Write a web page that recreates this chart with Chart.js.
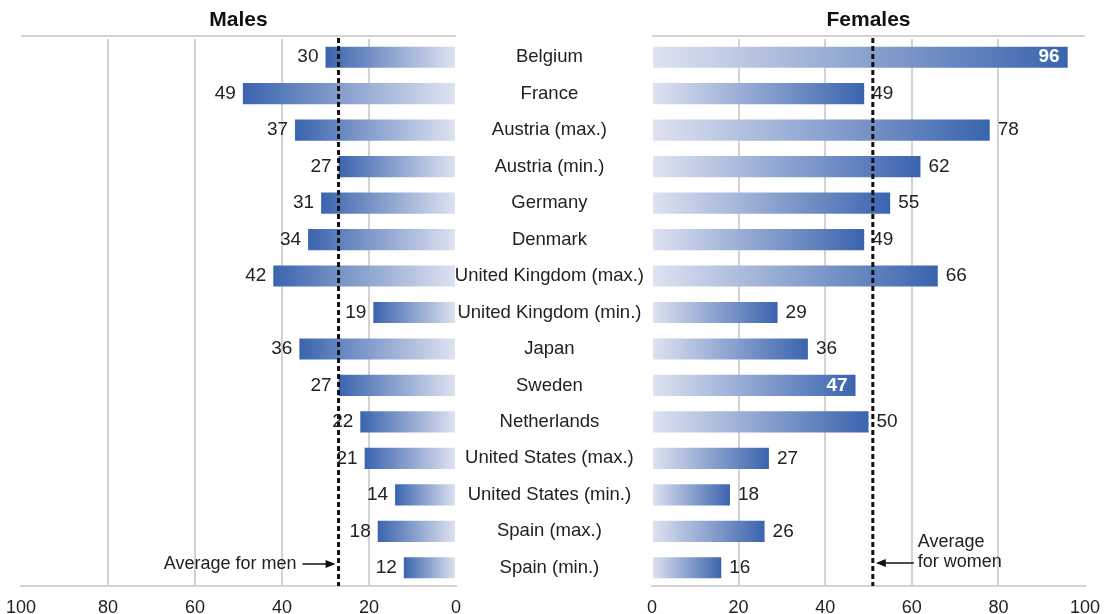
<!DOCTYPE html>
<html>
<head>
<meta charset="utf-8">
<script src="https://cdn.jsdelivr.net/npm/chart.js@4/dist/chart.umd.min.js"></script>
<style>
  body { margin: 0; background: #fff; overflow: hidden; }
  #wrap { position: relative; width: 1107px; height: 614px; }
  #males { position: absolute; left: 0; top: 0; }
  #females { position: absolute; left: 456px; top: 0; }
</style>
</head>
<body>
<div id="wrap">
  <canvas id="males" width="470" height="614"></canvas>
  <canvas id="females" width="651" height="614"></canvas>
</div>
<script>
const countries = [
	"Belgium", "France", "Austria (max.)", "Austria (min.)", "Germany", "Denmark",
	"United Kingdom (max.)", "United Kingdom (min.)", "Japan", "Sweden", "Netherlands",
	"United States (max.)", "United States (min.)", "Spain (max.)", "Spain (min.)"
];
const males = [30, 49, 37, 27, 31, 34, 42, 19, 36, 27, 22, 21, 14, 18, 12];
const females = [96, 49, 78, 62, 55, 49, 66, 29, 36, 47, 50, 27, 18, 26, 16];
const maleAverage = 27;
const femaleAverage = 51;
const xTicks = [0, 20, 40, 60, 80, 100];
// bars whose value sits inside in white
const femalesInside = ["Belgium", "Sweden"];

const FONT = "'Liberation Sans', Arial, sans-serif";
const DARK = "#3a64ae";
const LIGHT = "#dfe3f1";
const GRID = "#d3d3d3";
const TEXT = "#222";

Chart.defaults.animation = false;
Chart.defaults.font.family = FONT;

function barGradient(ctx) {
	const chart = ctx.chart;
	const x = chart.scales.x;
	if (!x || !chart.chartArea) return DARK;
	const v = ctx.raw;
	const x0 = x.getPixelForValue(0);
	const x1 = x.getPixelForValue(v);
	const g = chart.ctx.createLinearGradient(x0, 0, x1, 0);
	g.addColorStop(0, LIGHT);
	g.addColorStop(1, DARK);
	return g;
}

function arrow(c, x0, y, x1) {
	const dir = Math.sign(x1 - x0);
	c.strokeStyle = "#111";
	c.fillStyle = "#111";
	c.lineWidth = 1.5;
	c.beginPath();
	c.moveTo(x0, y);
	c.lineTo(x1 - dir * 8, y);
	c.stroke();
	c.beginPath();
	c.moveTo(x1, y);
	c.lineTo(x1 - dir * 10, y - 4);
	c.lineTo(x1 - dir * 10, y + 4);
	c.closePath();
	c.fill();
}

// titles, top rule, average line, value labels and notes
const extras = {
	id: "extras",
	afterDatasetsDraw(chart, args, opts) {
		const c = chart.ctx;
		const area = chart.chartArea;
		const x = chart.scales.x;
		const y = chart.scales.y;
		c.save();

		c.fillStyle = "#111";
		c.font = "bold 21px " + FONT;
		c.textAlign = "center";
		c.textBaseline = "middle";
		c.fillText(opts.title, (area.left + area.right) / 2, 20);

		c.strokeStyle = GRID;
		c.lineWidth = 2;
		c.beginPath();
		c.moveTo(area.left, 36);
		c.lineTo(area.right, 36);
		c.stroke();

		const ax = x.getPixelForValue(opts.average);
		c.strokeStyle = "#111";
		c.lineWidth = 3;
		c.setLineDash([5, 3]);
		c.beginPath();
		c.moveTo(ax, 38);
		c.lineTo(ax, area.bottom);
		c.stroke();
		c.setLineDash([]);

		const values = chart.data.datasets[0].data;
		c.textBaseline = "middle";
		values.forEach((v, i) => {
			const py = y.getPixelForValue(i);
			const px = x.getPixelForValue(v);
			const inside = opts.inside.includes(countries[i]);
			if (inside) {
				c.font = "bold 19px " + FONT;
				c.fillStyle = "#fff";
				c.textAlign = opts.side === "left" ? "left" : "right";
				c.fillText(v, px + (opts.side === "left" ? 8 : -8), py);
			} else {
				c.font = "19px " + FONT;
				c.fillStyle = TEXT;
				c.textAlign = opts.side === "left" ? "right" : "left";
				c.fillText(v, px + (opts.side === "left" ? -7 : 8), py);
			}
		});

		c.font = "18px " + FONT;
		c.fillStyle = TEXT;
		if (opts.side === "left") {
			c.textAlign = "right";
			c.fillText("Average for men", ax - 42, 564);
			arrow(c, ax - 36, 564, ax - 3);
		} else {
			c.textAlign = "left";
			c.fillText("Average", ax + 45, 542);
			c.fillText("for women", ax + 45, 562);
			arrow(c, ax + 41, 563, ax + 3);
		}
		c.restore();
	}
};

function makeChart(id, values, side) {
	const left = side === "left";
	return new Chart(document.getElementById(id), {
		type: "bar",
		plugins: [extras],
		data: {
			labels: countries,
			datasets: [{
				data: values,
				backgroundColor: barGradient,
				borderWidth: 0,
				categoryPercentage: 1,
				barPercentage: 0.58
			}]
		},
		options: {
			indexAxis: "y",
			responsive: false,
			layout: {
				padding: left
					? { left: 21, right: 14, top: 39, bottom: 0 }
					: { left: 0, right: 22, top: 39, bottom: 0 }
			},
			plugins: {
				legend: { display: false },
				tooltip: { enabled: false },
				extras: {
					title: left ? "Males" : "Females",
					side: side,
					average: left ? maleAverage : femaleAverage,
					inside: left ? [] : femalesInside
				}
			},
			scales: {
				x: {
					min: 0,
					max: 100,
					reverse: left,
					afterBuildTicks: (scale) => {
						scale.ticks = xTicks.map((v) => ({ value: v }));
					},
					afterFit: (scale) => {
						scale.height = 28;
						scale.paddingLeft = 0;
						scale.paddingRight = 0;
					},
					grid: {
						drawTicks: false,
						lineWidth: 2,
						color: (ctx) => (ctx.tick && (ctx.tick.value === 0 || ctx.tick.value === 100)) ? "rgba(0,0,0,0)" : GRID
					},
					border: { display: true, color: GRID, width: 2 },
					ticks: {
						color: TEXT,
						padding: 11,
						maxRotation: 0,
						font: { size: 18 }
					}
				},
				y: {
					display: !left,
					grid: { display: false },
					border: { display: false },
					afterFit: (scale) => {
						if (!left) scale.width = 196;
					},
					ticks: {
						color: TEXT,
						padding: 0,
						crossAlign: "center",
						font: { size: 18.5 }
					}
				}
			}
		}
	});
}

makeChart("males", males, "left");
makeChart("females", females, "right");
</script>
</body>
</html>
